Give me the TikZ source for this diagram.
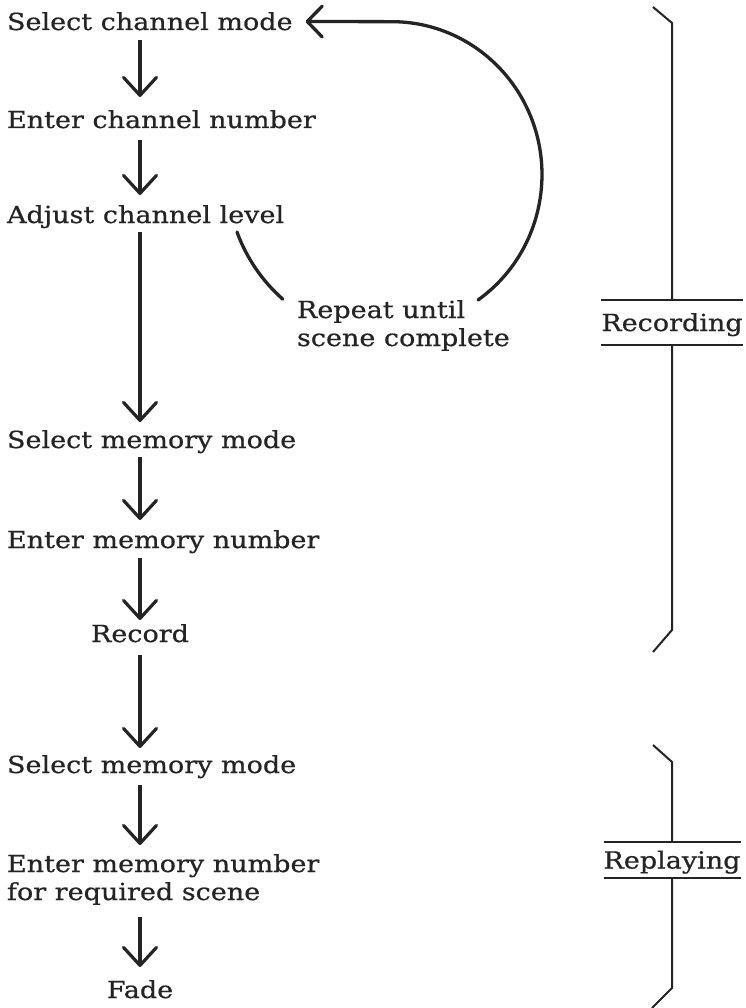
\documentclass[tikz,border=0pt]{standalone}
\usepackage{fontspec}
\setmainfont{DejaVu Serif}[FakeStretch=1.15, FakeBold=0.6]
\usetikzlibrary{arrows.meta}
\definecolor{ink}{HTML}{242424}
\begin{document}
\begin{tikzpicture}[x=1pt,y=-1pt,
  every node/.style={text=ink, inner sep=0pt, outer sep=0pt,
    font=\fontsize{23.5pt}{28pt}\selectfont},
  stepnode/.style={anchor=base west, text height=17pt, text depth=0pt},
  midnode/.style={anchor=base, text height=17pt, text depth=0pt},
  flow/.style={draw=ink, line width=3.2pt,
    -{Straight Barb[round, length=18pt, width=33pt]}},
  loopline/.style={draw=ink, line width=3.3pt, line cap=round},
  bracket/.style={draw=ink, line width=2pt, line join=round},
  phase/.style={text height=17pt, text depth=0pt, minimum width=135pt}
]
\fill[white] (0,0) rectangle (745,1008);
\useasboundingbox (0,0) rectangle (745,1008);

% procedure steps
\node[stepnode] (sel1) at (7,30)  {Select channel mode};
\node[stepnode] (ent1) at (7,128) {Enter channel number};
\node[stepnode] (adj)  at (7,223) {Adjust channel level};
\node[stepnode] (sel2) at (7,448) {Select memory mode};
\node[stepnode] (ent2) at (7,548) {Enter memory number};
\node[midnode]  (rec)  at (140,642) {Record};
\node[stepnode] (sel3) at (7,773) {Select memory mode};
\node[stepnode, text depth=28pt] (ent3) at (7,872)
  {\begin{tabular}[t]{@{}l@{}}Enter memory number\\for required scene\end{tabular}};
\node[midnode]  (fade) at (140,998) {Fade};

% loop note
\node[stepnode, text depth=28pt] (note) at (297,318)
  {\begin{tabular}[t]{@{}l@{}}Repeat until\\scene complete\end{tabular}};

% flow arrows
\coordinate (ax) at (140,0);
\draw[flow, shorten <=10pt, shorten >=14pt] (sel1.south -| ax) -- (ent1.north -| ax);
\draw[flow, shorten <=12pt, shorten >=11pt] (ent1.south -| ax) -- (adj.north -| ax);
\draw[flow, shorten <=9pt,  shorten >=9pt]  (adj.south -| ax)  -- (sel2.north -| ax);
\draw[flow, shorten <=9pt,  shorten >=11pt] (sel2.south -| ax) -- (ent2.north -| ax);
\draw[flow, shorten <=10pt, shorten >=5pt]  (ent2.south -| ax) -- (rec.north -| ax);
\draw[flow, shorten <=13pt, shorten >=8pt]  (rec.south -| ax)  -- (sel3.north -| ax);
\draw[flow, shorten <=12pt, shorten >=10pt] (sel3.south -| ax) -- (ent3.north -| ax);
\draw[flow, shorten <=17pt, shorten >=14pt] (ent3.south -| ax) -- (fade.north -| ax);

% repeat loop back to the first step
\coordinate (loopstart) at (478,300);
\draw[loopline, -{Straight Barb[round, length=15pt, width=31pt]}]
  (loopstart) arc[start angle=-55, end angle=90, x radius=150pt, y radius=153pt]
  -- ([xshift=13pt]sel1.east);
\coordinate (arcin) at (237,232);
\draw[loopline] (arcin) arc[start angle=200, end angle=228.5, radius=165pt];

% recording bracket
\node[phase, minimum height=45pt] (recp) at (672,322.5) {Recording};
\coordinate (r0) at (653,7);
\coordinate (r1) at (672,23);
\coordinate (r2) at (672,630);
\coordinate (r3) at (653,652);
\draw[bracket] (recp.north west) -- (recp.north east);
\draw[bracket] (recp.south west) -- (recp.south east);
\draw[bracket] (r0) -- (r1) -- (recp.north);
\draw[bracket] (recp.south) -- (r2) -- (r3);

% replaying bracket
\node[phase, minimum height=36pt] (repp) at (672,860) {Replaying};
\coordinate (p0) at (653,745);
\coordinate (p1) at (672,762);
\coordinate (p2) at (672,988);
\coordinate (p3) at (652,1008);
\draw[bracket] (repp.north west) -- (repp.north east);
\draw[bracket] (repp.south west) -- (repp.south east);
\draw[bracket] (p0) -- (p1) -- (repp.north);
\draw[bracket] (repp.south) -- (p2) -- (p3);
\end{tikzpicture}
\end{document}
